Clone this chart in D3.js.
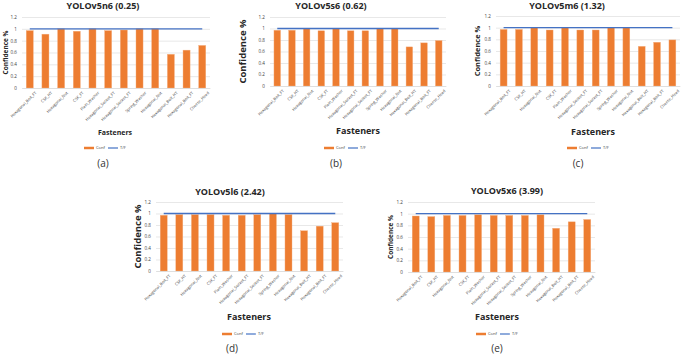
<!DOCTYPE html>
<html>
<head>
<meta charset="utf-8">
<script src="https://cdn.jsdelivr.net/npm/d3@7"></script>
<style>
  body { margin: 0; background: #fff; }
  svg { display: block; font-family: "Open Sans", "Liberation Sans", sans-serif; }
</style>
</head>
<body>
<svg id="chart" width="685" height="355"></svg>
<script>
// categories (two pairs repeat in the original, so bands are keyed by index)
var fasteners = ["Hexagonal_Bolt_FT", "CSK_HT", "Hexagonal_Nut", "CSK_FT", "Plain_Washer",
  "Hexagonal_Socket_FT", "Hexagonal_Socket_FT", "Spring_Washer", "Hexagonal_Nut",
  "Hexagonal_Bolt_HT", "Hexagonal_Bolt_FT", "Cheese_Head"];

var confN6 = [0.97, 0.91, 1.0, 0.96, 1.0, 0.97, 0.98, 1.0, 1.0, 0.57, 0.64, 0.72];
var confS6 = [0.97, 0.97, 1.0, 0.96, 1.0, 0.96, 0.96, 1.0, 1.0, 0.68, 0.75, 0.79];
var confM6 = [0.97, 0.97, 1.0, 0.96, 1.0, 0.96, 0.96, 1.0, 1.0, 0.68, 0.75, 0.79];
var confL6 = [0.97, 0.98, 0.98, 0.98, 0.97, 0.97, 0.98, 1.0, 0.98, 0.70, 0.78, 0.84];
var confX6 = [0.96, 0.95, 0.97, 0.97, 0.98, 0.97, 0.97, 0.97, 0.98, 0.75, 0.86, 0.90];
var tf = [1, 1, 1, 1, 1, 1, 1, 1, 1, 1, 1, 1];

var titles = ["YOLOv5n6 (0.25)", "YOLOv5s6 (0.62)", "YOLOv5m6 (1.32)", "YOLOv5l6 (2.42)", "YOLOv5x6 (3.99)"];
var subLabels = ["(a)", "(b)", "(c)", "(d)", "(e)"];
var yTicks = [0, 0.2, 0.4, 0.6, 0.8, 1, 1.2];

// where each small chart sits on the page
var panels = [
  { conf: confN6, left: 22, right: 210, top: 17, bottom: 88, titleX: 103, titleY: 7,
    yLabX: 6, yLabSize: 6.5, xLabX: 115, xLabY: 133, xLabSize: 7, legX: 105, legY: 148, subX: 103, subY: 164 },
  { conf: confS6, left: 270, right: 446, top: 17, bottom: 86, titleX: 331, titleY: 7,
    yLabX: 243, yLabSize: 9.5, xLabX: 358, xLabY: 132, xLabSize: 9, legX: 345, legY: 148, subX: 336, subY: 164 },
  { conf: confM6, left: 496, right: 680, top: 16, bottom: 86, titleX: 567, titleY: 7,
    yLabX: 478, yLabSize: 7.5, xLabX: 593, xLabY: 133, xLabSize: 9, legX: 588, legY: 148, subX: 578, subY: 164 },
  { conf: confL6, left: 156, right: 343, top: 202, bottom: 271, titleX: 230, titleY: 193,
    yLabX: 138, yLabSize: 9.5, xLabX: 249, xLabY: 318, xLabSize: 9, legX: 243, legY: 334, subX: 232, subY: 349 },
  { conf: confX6, left: 408, right: 595, top: 202, bottom: 272, titleX: 507, titleY: 192,
    yLabX: 391, yLabSize: 6.5, xLabX: 497, xLabY: 318, xLabSize: 9, legX: 497, legY: 334, subX: 497, subY: 349 }
];

var svg = d3.select("#chart");

panels.forEach(function (p, k) {
  var g = svg.append("g");
  var idx = d3.range(fasteners.length);

  var x = d3.scaleBand().domain(idx).range([p.left, p.right]).paddingInner(0.55).paddingOuter(0.27);
  var y = d3.scaleLinear().domain([0, 1.2]).range([p.bottom, p.top]);

  // grid
  g.append("g")
    .attr("transform", "translate(" + p.left + ",0)")
    .call(d3.axisLeft(y).tickValues(yTicks).tickSize(-(p.right - p.left)).tickFormat(d3.format("~g")))
    .call(function (a) {
      a.select(".domain").remove();
      a.selectAll(".tick line").attr("stroke", "#d9d9d9").attr("stroke-width", 0.6);
      a.selectAll(".tick text").attr("x", -5).attr("fill", "#404040")
        .style("font-size", "4.6px").style("font-family", "Open Sans, sans-serif");
    });

  // bars
  g.selectAll("rect.bar")
    .data(p.conf)
    .join("rect")
    .attr("class", "bar")
    .attr("x", function (d, i) { return x(i); })
    .attr("width", x.bandwidth())
    .attr("y", function (d) { return y(d); })
    .attr("height", function (d) { return y(0) - y(d); })
    .attr("fill", "#ed7d31")
    .attr("stroke", "#f4b183")
    .attr("stroke-width", 0.4);

  // T/F line
  var line = d3.line()
    .x(function (d, i) { return x(i) + x.bandwidth() / 2; })
    .y(function (d) { return y(d); });
  g.append("path")
    .datum(tf)
    .attr("d", line)
    .attr("fill", "none")
    .attr("stroke", "#4472c4")
    .attr("stroke-width", 1.4);

  // x axis labels
  g.append("g")
    .attr("transform", "translate(0," + p.bottom + ")")
    .call(d3.axisBottom(x).tickSize(0).tickFormat(function (i) { return fasteners[i]; }))
    .call(function (a) {
      a.select(".domain").attr("stroke", "#d9d9d9").attr("stroke-width", 0.6);
      a.selectAll("text")
        .attr("transform", "translate(3,1)rotate(-45)")
        .style("text-anchor", "end")
        .attr("fill", "#404040")
        .style("font-size", "4px")
        .style("font-family", "Open Sans, sans-serif");
    });

  // titles
  g.append("text")
    .attr("x", p.titleX).attr("y", p.titleY)
    .attr("text-anchor", "middle").attr("dominant-baseline", "middle")
    .attr("font-size", 9).attr("font-weight", 700).attr("fill", "#262626")
    .text(titles[k]);

  g.append("text")
    .attr("transform", "translate(" + p.yLabX + "," + (p.top + p.bottom) / 2 + ")rotate(-90)")
    .attr("text-anchor", "middle").attr("dominant-baseline", "middle")
    .attr("font-size", p.yLabSize).attr("font-weight", 700).attr("fill", "#262626")
    .text("Confidence %");

  g.append("text")
    .attr("x", p.xLabX).attr("y", p.xLabY)
    .attr("text-anchor", "middle").attr("dominant-baseline", "middle")
    .attr("font-size", p.xLabSize).attr("font-weight", 700).attr("fill", "#262626")
    .text("Fasteners");

  // legend
  var leg = g.append("g").attr("transform", "translate(" + (p.legX - 21) + "," + p.legY + ")");
  leg.append("line").attr("x1", 0).attr("x2", 10).attr("stroke", "#ed7d31").attr("stroke-width", 2.5);
  leg.append("text").attr("x", 12).attr("dominant-baseline", "middle")
    .attr("font-size", 4).attr("fill", "#404040").text("Conf");
  leg.append("line").attr("x1", 24).attr("x2", 34).attr("stroke", "#4472c4").attr("stroke-width", 1.2);
  leg.append("text").attr("x", 36).attr("dominant-baseline", "middle")
    .attr("font-size", 4).attr("fill", "#404040").text("T/F");

  // panel letter
  g.append("text")
    .attr("x", p.subX).attr("y", p.subY)
    .attr("text-anchor", "middle").attr("dominant-baseline", "middle")
    .attr("font-size", 10).attr("fill", "#333")
    .text(subLabels[k]);
});
</script>
</body>
</html>
